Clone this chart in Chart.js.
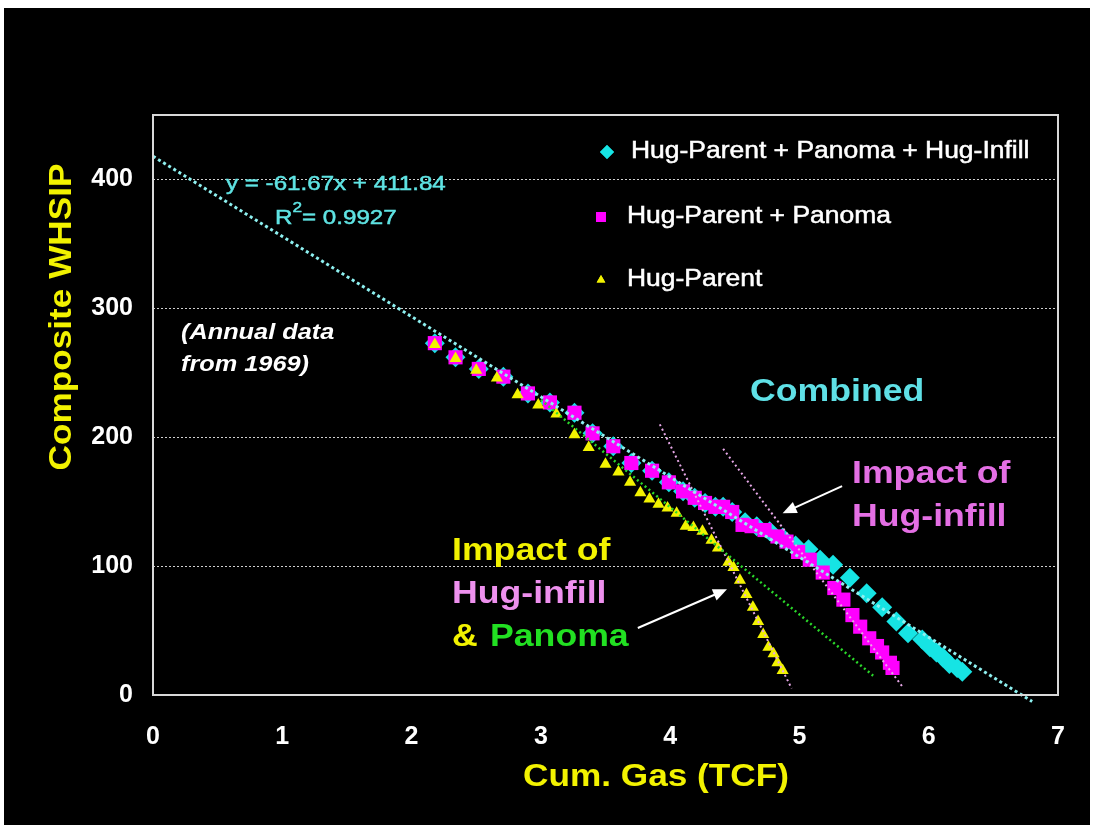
<!DOCTYPE html>
<html>
<head>
<meta charset="utf-8">
<script src="https://cdn.jsdelivr.net/npm/chart.js@4/dist/chart.umd.min.js"></script>
<style>
  html, body { margin: 0; padding: 0; background: #fff; }
  canvas { display: block; }
</style>
</head>
<body>
<canvas id="myChart" width="1110" height="825"></canvas>
<script>
// Hug-Parent + Panoma + Hug-Infill (cyan diamonds)
const combinedX = [2.18, 2.34, 2.52, 2.71, 2.90, 3.07, 3.26, 3.40, 3.56, 3.70, 3.86, 3.99, 4.10, 4.19, 4.27, 4.35, 4.41, 4.48,
  4.58, 4.67, 4.77, 4.87, 4.97, 5.07, 5.16, 5.26, 5.39, 5.52, 5.64, 5.75, 5.84, 5.95, 6.01, 6.06, 6.11, 6.16, 6.22, 6.26]
const combinedY = [273, 262, 253, 247, 234, 227, 219, 203, 193, 180, 174, 165, 158, 153, 149, 146, 146, 142,
  134, 131, 127, 122, 116, 113, 105, 101, 91, 79, 68, 57, 48, 43, 37, 33, 29, 24, 21, 18]

// Hug-Parent + Panoma (magenta squares)
const parentPanomaX = [2.18, 2.34, 2.52, 2.71, 2.90, 3.07, 3.26, 3.40, 3.56, 3.70, 3.86, 3.99, 4.10, 4.19, 4.27, 4.35, 4.41, 4.48,
  4.56, 4.63, 4.73, 4.83, 4.90, 4.99, 5.08, 5.18, 5.27, 5.34, 5.41, 5.47, 5.54, 5.60, 5.64, 5.70, 5.72]
const parentPanomaY = [273, 262, 253, 247, 234, 227, 219, 203, 193, 180, 174, 165, 158, 153, 149, 146, 146, 142,
  132, 131, 128, 123, 119, 111, 105, 95, 83, 74, 62, 53, 44, 38, 33, 25, 21]

// Hug-Parent (yellow triangles)
const parentX = [2.18, 2.34, 2.50, 2.66, 2.82, 2.98, 3.12, 3.26, 3.37, 3.50, 3.60, 3.69, 3.77, 3.84, 3.91, 3.98, 4.05,
  4.12, 4.18, 4.25, 4.32, 4.37, 4.45, 4.49, 4.54, 4.59, 4.64, 4.68, 4.72, 4.76, 4.80, 4.83, 4.87]
const parentY = [272, 261, 252, 246, 233, 225, 218, 202, 192, 179, 173, 165, 157, 152, 148, 145, 141,
  131, 130, 127, 120, 114, 103, 99, 89, 78, 68, 57, 47, 37, 32, 25, 19]

// fitted / guide lines (end points)
const trendX = [0, 6.8], trendY = [418, -5]
const greenX = [3.0, 5.57], greenY = [229, 15]
const pinkAX = [3.92, 4.94], pinkAY = [210, 5]
const pinkBX = [4.41, 5.80], pinkBY = [191, 6]

const seriesLabels = ['Hug-Parent + Panoma + Hug-Infill', 'Hug-Parent + Panoma', 'Hug-Parent']

const pts = (xs, ys) => xs.map((x, i) => ({ x: x, y: ys[i] }))

const FONT = "'Liberation Sans', Arial, sans-serif"

function txt(ctx, s, x, y, size, color, opt) {
  opt = opt || {}
  ctx.save()
  ctx.font = (opt.italic ? 'italic ' : '') + (opt.bold === false ? '' : 'bold ') + size + 'px ' + FONT
  ctx.fillStyle = color
  ctx.textBaseline = 'middle'
  ctx.textAlign = opt.align || 'left'
  ctx.translate(x, y)
  if (opt.rot) ctx.rotate(opt.rot)
  ctx.scale(opt.sx || 1.15, 1)
  ctx.fillText(s, 0, 0)
  if (opt.bold === false) {
    // slightly heavier strokes, like the source slide
    ctx.strokeStyle = color
    ctx.lineWidth = 0.5
    ctx.strokeText(s, 0, 0)
  }
  const w = ctx.measureText(s).width * (opt.sx || 1.15)
  ctx.restore()
  return w
}

function arrow(ctx, x1, y1, x2, y2) {
  const a = Math.atan2(y2 - y1, x2 - x1)
  ctx.save()
  ctx.strokeStyle = '#ffffff'
  ctx.fillStyle = '#ffffff'
  ctx.lineWidth = 2
  ctx.beginPath(); ctx.moveTo(x1, y1); ctx.lineTo(x2 - 8 * Math.cos(a), y2 - 8 * Math.sin(a)); ctx.stroke()
  ctx.beginPath()
  ctx.moveTo(x2, y2)
  ctx.lineTo(x2 - 14 * Math.cos(a) + 6 * Math.sin(a), y2 - 14 * Math.sin(a) - 6 * Math.cos(a))
  ctx.lineTo(x2 - 14 * Math.cos(a) - 6 * Math.sin(a), y2 - 14 * Math.sin(a) + 6 * Math.cos(a))
  ctx.closePath(); ctx.fill()
  ctx.restore()
}

const slidePlugin = {
  id: 'slide',
  beforeDraw(chart) {
    const ctx = chart.ctx
    ctx.save()
    ctx.fillStyle = '#ffffff'
    ctx.fillRect(0, 0, chart.width, chart.height)
    ctx.fillStyle = '#000000'
    ctx.fillRect(4, 8, 1086, 817)
    ctx.restore()
  },
  afterDraw(chart) {
    const ctx = chart.ctx
    const a = chart.chartArea
    const xs = chart.scales.x, ys = chart.scales.y
    // plot frame
    ctx.save()
    ctx.strokeStyle = '#d8d8d8'
    ctx.lineWidth = 2
    ctx.strokeRect(a.left, a.top, a.right - a.left, a.bottom - a.top)
    ctx.restore()

    // axis titles
    txt(ctx, 'Composite WHSIP', 62, 317, 32, '#f2f200', { rot: -Math.PI / 2, align: 'center', sx: 1.1 })
    txt(ctx, 'Cum. Gas (TCF)', 656, 777, 32, '#f2f200', { align: 'center', sx: 1.1 })

    // regression text
    txt(ctx, 'y = -61.67x + 411.84', 226, 184, 21, '#5fe3e3', { bold: false })
    let w = txt(ctx, 'R', 275, 218, 21, '#5fe3e3', { bold: false })
    const w2 = txt(ctx, '2', 275 + w, 208, 15, '#5fe3e3', { bold: false })
    txt(ctx, '= 0.9927', 275 + w + w2, 218, 21, '#5fe3e3', { bold: false })

    txt(ctx, '(Annual data', 181, 333, 22, '#ffffff', { italic: true })
    txt(ctx, 'from 1969)', 181, 365, 22, '#ffffff', { italic: true })

    txt(ctx, 'Combined', 750, 392, 31, '#5fe0e6')
    txt(ctx, 'Impact of', 852, 474, 31, '#e46fe4')
    txt(ctx, 'Hug-infill', 852, 517, 31, '#e46fe4')

    txt(ctx, 'Impact of', 452, 551, 31, '#f2f200')
    txt(ctx, 'Hug-infill', 452, 594, 31, '#ee90ee')
    txt(ctx, '&', 452, 637, 31, '#f2f200')
    txt(ctx, 'Panoma', 490, 637, 31, '#22e022')

    // arrows, placed in data units
    arrow(ctx, xs.getPixelForValue(5.33), ys.getPixelForValue(162), xs.getPixelForValue(4.87), ys.getPixelForValue(141))
    arrow(ctx, xs.getPixelForValue(3.75), ys.getPixelForValue(52), xs.getPixelForValue(4.44), ys.getPixelForValue(82))

    // legend
    const marks = [
      { style: 'rectRot', color: '#16e4e4', r: 7, mx: 607, y: 152 },
      { style: 'rect', color: '#ff00ff', r: 7, mx: 601, y: 217 },
      { style: 'triangle', color: '#f2f200', r: 5, mx: 601, y: 280 }
    ]
    marks.forEach((m, i) => {
      ctx.save(); ctx.fillStyle = m.color
      Chart.helpers.drawPoint(ctx, { pointStyle: m.style, radius: m.r, borderWidth: 0 }, m.mx, m.y)
      ctx.fill(); ctx.restore()
      txt(ctx, seriesLabels[i], i === 0 ? 631 : 627, m.y, 23, '#ffffff', { bold: false })
    })
  }
}

const guide = (data, color, width, dash) => ({
  type: 'line', data: data, borderColor: color, borderWidth: width || 2, borderDash: dash || [2, 3],
  pointRadius: 0, fill: false, clip: false, order: 0
})

const ctx = document.getElementById('myChart').getContext('2d')
const myChart = new Chart(ctx, {
  type: 'scatter',
  data: {
    datasets: [
      guide(pts(trendX, trendY), '#8ef0f0', 3, [3, 3]),
      guide(pts(greenX, greenY), '#2ad82a', 2.5),
      guide(pts(pinkAX, pinkAY), '#e8a8e8'),
      guide(pts(pinkBX, pinkBY), '#e8a8e8'),
      {
        label: seriesLabels[2], data: pts(parentX, parentY), pointStyle: 'triangle',
        pointRadius: 7, backgroundColor: '#f2f200', borderColor: '#f2f200', borderWidth: 0, order: 1
      },
      {
        label: seriesLabels[1], data: pts(parentPanomaX, parentPanomaY), pointStyle: 'rect',
        pointRadius: 10, backgroundColor: '#ff00ff', borderColor: '#ff00ff', borderWidth: 0, order: 2
      },
      {
        label: seriesLabels[0], data: pts(combinedX, combinedY), pointStyle: 'rectRot',
        pointRadius: 10, backgroundColor: '#16e4e4', borderColor: '#16e4e4', borderWidth: 0, order: 3
      }
    ]
  },
  options: {
    responsive: false,
    animation: false,
    devicePixelRatio: 1,
    layout: { padding: { top: 115, right: 52, left: 0, bottom: 0 } },
    plugins: {
      legend: { display: false },
      tooltip: { enabled: false }
    },
    scales: {
      x: {
        type: 'linear', min: 0, max: 7,
        afterFit: (s) => { s.height = 130 },
        grid: { display: false },
        border: { display: false },
        ticks: {
          stepSize: 1, color: '#ffffff', padding: 19,
          font: { family: "'Liberation Sans Narrow', 'Liberation Sans', Arial", size: 25, weight: 'bold' }
        }
      },
      y: {
        min: 0, max: 450,
        afterFit: (s) => { s.width = 153 },
        grid: { color: '#d0d0d0', lineWidth: 1, drawTicks: false },
        border: { display: false, dash: [2, 2] },
        ticks: {
          stepSize: 100, includeBounds: false, color: '#ffffff', padding: 20,
          font: { family: "'Liberation Sans Narrow', 'Liberation Sans', Arial", size: 25, weight: 'bold' }
        }
      }
    }
  },
  plugins: [slidePlugin]
})
</script>
</body>
</html>
